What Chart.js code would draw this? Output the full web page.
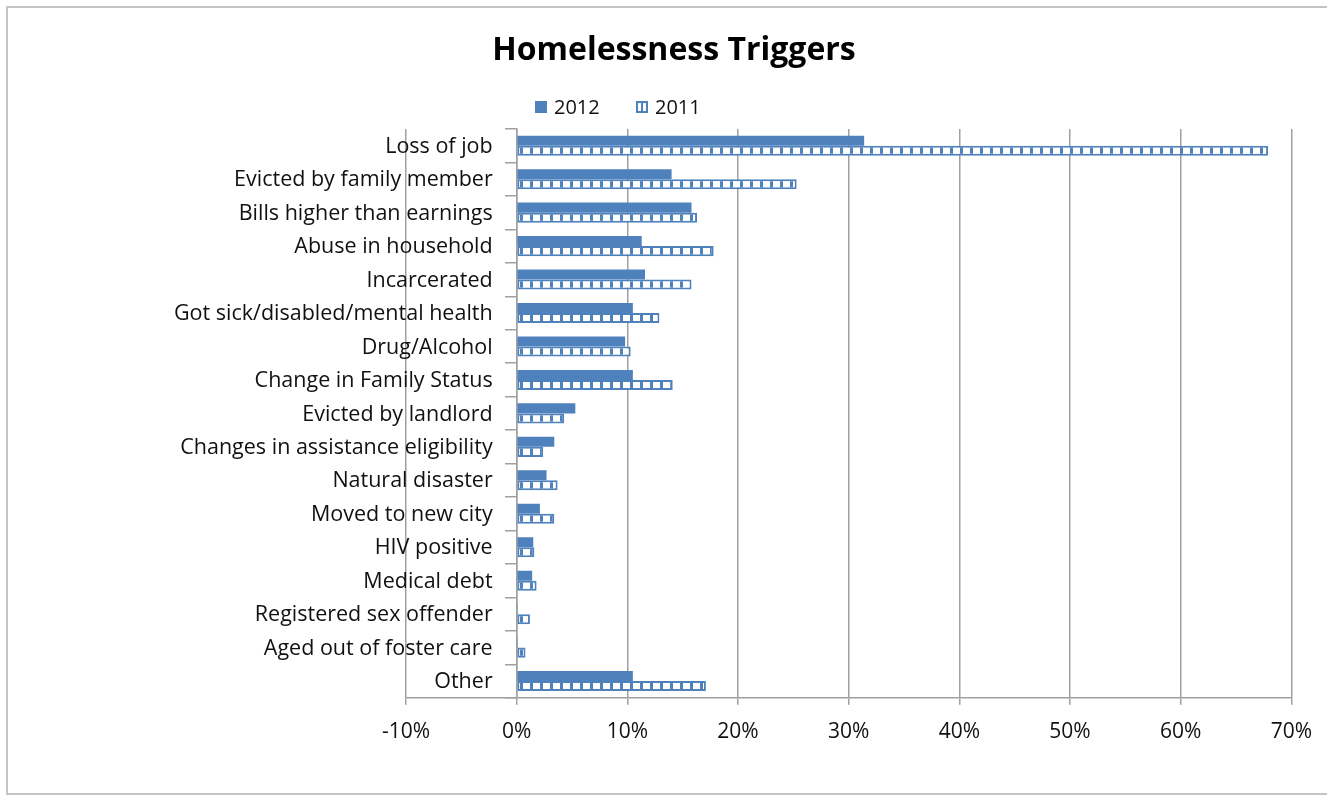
<!DOCTYPE html>
<html>
<head>
<meta charset="utf-8">
<script src="https://cdn.jsdelivr.net/npm/chart.js@4"></script>
<style>
  html, body { margin: 0; padding: 0; background: #fff; }
  #wrap { position: relative; width: 1327px; height: 796px; overflow: hidden; }
  #frame { position: absolute; left: 6px; top: 6px; width: 1340px; height: 785px;
           border: 2px solid #c4c4c4; border-right: none; pointer-events: none; }
  canvas { position: absolute; left: 0; top: 0; }
</style>
</head>
<body>
<div id="wrap">
  <canvas id="barChart" width="1327" height="796"></canvas>
  <div id="frame"></div>
</div>
<script>
const chartTitle = 'Homelessness Triggers';
const categories = [
    'Loss of job', 'Evicted by family member', 'Bills higher than earnings',
    'Abuse in household', 'Incarcerated', 'Got sick/disabled/mental health',
    'Drug/Alcohol', 'Change in Family Status', 'Evicted by landlord',
    'Changes in assistance eligibility', 'Natural disaster', 'Moved to new city',
    'HIV positive', 'Medical debt', 'Registered sex offender',
    'Aged out of foster care', 'Other'
];
const values2012 = [31.4, 14.0, 15.8, 11.3, 11.6, 10.5, 9.8, 10.5, 5.3, 3.4, 2.7, 2.1, 1.5, 1.4, 0.1, 0.1, 10.5];
const values2011 = [67.9, 25.3, 16.3, 17.8, 15.8, 12.9, 10.3, 14.1, 4.3, 2.4, 3.7, 3.4, 1.6, 1.8, 1.2, 0.8, 17.1];
const seriesLabels = ['2012', '2011'];
const xTicks = [-10, 0, 10, 20, 30, 40, 50, 60, 70];

const blue = '#4F81BD';
const gridGray = '#a0a0a0';
const font = '"Open Sans", sans-serif';

// white squares between thin blue stripes, like the Excel pattern fill
function makePattern() {
    const c = document.createElement('canvas');
    c.width = 10;
    c.height = 4;
    const g = c.getContext('2d');
    g.fillStyle = '#fff';
    g.fillRect(0, 0, 10, 4);
    g.fillStyle = blue;
    g.fillRect(0, 0, 3, 4);
    return g.createPattern(c, 'repeat');
}

const ctx = document.getElementById('barChart').getContext('2d');
const pattern = makePattern();

// title + legend drawn where they sit in the picture
const headerPlugin = {
    id: 'header',
    afterDraw(chart) {
        const c = chart.ctx;
        c.save();
        c.fillStyle = '#000';
        c.font = 'bold 32px ' + font;
        c.textAlign = 'center';
        c.textBaseline = 'middle';
        c.fillText(chartTitle, 674, 51);

        c.font = '20px ' + font;
        c.textAlign = 'left';
        const startX = [535, 636];
        chart.data.datasets.forEach((ds, i) => {
            const x = startX[i];
            const y = 101;
            if (i === 0) {
                c.fillStyle = blue;
                c.fillRect(x, y, 12, 12);
            } else {
                c.fillStyle = '#fff';
                c.fillRect(x, y, 12, 12);
                c.strokeStyle = blue;
                c.lineWidth = 2;
                c.strokeRect(x + 1, y + 1, 10, 10);
                c.fillStyle = blue;
                c.fillRect(x + 5, y, 2, 12);
            }
            c.fillStyle = '#111';
            c.fillText(ds.label, x + 19, y + 7);
        });
        c.restore();
    }
};

// category names sit left of the axis that crosses at 0 %
const categoryLabelPlugin = {
    id: 'categoryLabels',
    afterDraw(chart) {
        const c = chart.ctx;
        const xs = chart.scales.x;
        const ys = chart.scales.y;
        const right = xs.getPixelForValue(0) - 24;
        c.save();
        c.font = '21.5px ' + font;
        c.fillStyle = '#111';
        c.textAlign = 'right';
        c.textBaseline = 'middle';
        chart.data.labels.forEach((lab, i) => {
            c.fillText(lab, right, ys.getPixelForValue(i) + 1);
        });
        c.restore();
    }
};

const myChart = new Chart(ctx, {
    type: 'bar',
    data: {
        labels: categories,
        datasets: [{
            label: seriesLabels[0],
            data: values2012,
            backgroundColor: blue,
            borderColor: blue,
            borderWidth: 0
        }, {
            label: seriesLabels[1],
            data: values2011,
            backgroundColor: pattern,
            borderColor: blue,
            borderWidth: 2,
            borderSkipped: false
        }]
    },
    options: {
        indexAxis: 'y',
        responsive: false,
        animation: false,
        layout: {
            padding: {left: 406, top: 129, right: 33, bottom: 36}
        },
        plugins: {
            legend: {display: false},
            title: {display: false},
            tooltip: {enabled: false}
        },
        datasets: {
            bar: {categoryPercentage: 0.6, barPercentage: 1.0}
        },
        scales: {
            x: {
                min: -10,
                max: 70,
                afterBuildTicks: (scale) => {
                    scale.ticks = xTicks.map(v => ({value: v}));
                },
                grid: {
                    color: gridGray,
                    lineWidth: 1.5,
                    tickLength: 7
                },
                border: {color: gridGray, width: 1.5},
                ticks: {
                    color: '#111',
                    padding: 15,
                    font: {family: font, size: 21},
                    callback: (v) => v + '%'
                }
            },
            // category axis line crossing at 0 %, with tick marks
            y: {
                position: {x: 0},
                afterFit: (scale) => { scale.width = 0; },
                grid: {
                    drawOnChartArea: false,
                    offset: true,
                    color: gridGray,
                    lineWidth: 1.5,
                    tickLength: 11
                },
                border: {color: gridGray, width: 1.5},
                ticks: {display: false, autoSkip: false}
            }
        }
    },
    plugins: [headerPlugin, categoryLabelPlugin]
});
</script>
</body>
</html>
